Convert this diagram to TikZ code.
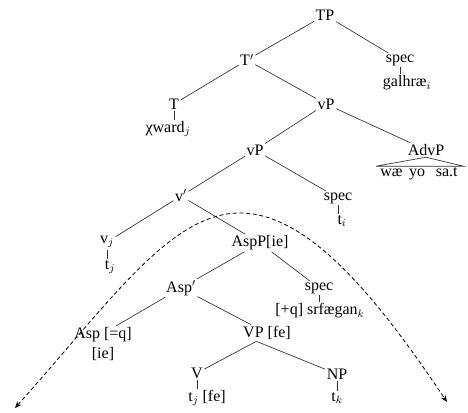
\documentclass[tikz,border=0pt]{standalone}
\usepackage{fontspec}
\setmainfont{Liberation Serif}
\usetikzlibrary{arrows.meta, positioning}

\begin{document}
\begin{tikzpicture}[
  x=0.75pt, y=0.75pt,
  cat/.style  = {inner sep=1pt, font=\fontsize{12}{13}\selectfont},
  leaf/.style = {inner sep=1pt, font=\fontsize{12}{13}\selectfont},
  br/.style   = {line width=0.5pt, black!80},
  mvt/.style  = {densely dashed, line width=0.6pt,
                 {Stealth[length=5pt,width=4pt]}-{Stealth[length=5pt,width=4pt]}}
]
\useasboundingbox (0,0) rectangle (468,412);

% ===================== TOP: TP =====================
\node[cat] (tp)    at (325,397) {TP};
\node[cat] (tbar)  at (247,352) {T$'$};
\node[cat] (spec1) at (400,352) {spec};
\node[leaf] (galh) at (407,329) {galhræ$_i$};

\node[cat] (t)     at (174,308) {T};
\node[leaf] (tw)   at (168,283) {χward$_j$};
\node[cat] (vp1)   at (326,308) {vP};

\draw[br] (tp) -- (tbar);
\draw[br] (tp) -- (spec1);
\draw[br] (spec1.south) -- (spec1.south |- galh.north);
\draw[br] (tbar) -- (t);
\draw[br] (tbar) -- (vp1);
\draw[br] (t.south) -- (t.south |- tw.north);

% ===================== MIDDLE: vP =====================
\node[cat] (vp2)   at (255,262) {vP};
\node[cat] (advp)  at (426,262) {AdvP};
\node[leaf] (advw) at (419,238) {wæ\hspace{5pt}yo\hspace{8pt}sa.t};

\node[cat] (vbar)  at (181,216) {v$'$};
\node[cat] (spec2) at (338,214) {spec};
\node[leaf] (ti)   at (342,191) {t$_i$};

\draw[br] (vp1) -- (vp2);
\draw[br] (vp1) -- (advp);
\draw[br] (advp.south) -- ([xshift=-2pt]advw.north west)
                       -- ([xshift=3pt]advw.north east) -- cycle;
\draw[br] (vp2) -- (vbar);
\draw[br] (vp2) -- (spec2);
\draw[br] (spec2.south) -- (spec2.south |- ti.north);

% ===================== LOWER: AspP =====================
\node[cat] (vj)    at (107,170) {v$_j$};
\node[leaf] (tj)   at (110,145) {t$_j$};
\node[cat] (aspp)  at (260,169) {AspP[ie]};

\node[cat] (aspbar) at (181,124) {Asp$'$};
\node[cat] (spec3)  at (319,124) {spec};
\node[leaf] (wh)    at (320,101) {[+q] srfægan$_k$};

\draw[br] (vbar) -- (vj);
\draw[br] (vbar) -- (aspp);
\draw[br] (vj.south) -- (vj.south |- tj.north);
\draw[br] (aspp) -- (aspbar);
\draw[br] (aspp) -- (spec3);
\draw[br] (spec3.south) -- (spec3.south |- wh.north);

% ===================== BOTTOM: VP =====================
\node[cat, align=center] (asp) at (103,68) {Asp [=q]\\[2pt][ie]};
\node[cat] (vp)    at (267,79) {VP [fe]};
\node[cat] (v)     at (197,39) {V};
\node[leaf] (tjfe) at (207,14) {t$_j$ [fe]};
\node[cat] (np)    at (337,38) {NP};
\node[leaf] (tk)   at (337,14) {t$_k$};

\draw[br] (aspbar) -- ([xshift=10pt]asp.north);
\draw[br] (aspbar) -- (vp);
\draw[br] ([xshift=-8pt]vp.south) -- (v);
\draw[br] ([xshift=-8pt]vp.south) -- (np);
\draw[br] (v.south) -- (v.south |- tjfe.north);
\draw[br] (np.south) -- (np.south |- tk.north);

% ===================== MOVEMENT ARC =====================
\coordinate (lend) at (15,4);
\coordinate (top)  at (240,199);
\coordinate (rend) at (447,10);
\draw[mvt] (lend) .. controls (110,110) and (170,199) .. (top)
                  .. controls (310,199) and (380,110) .. (rend);

\end{tikzpicture}
\end{document}
